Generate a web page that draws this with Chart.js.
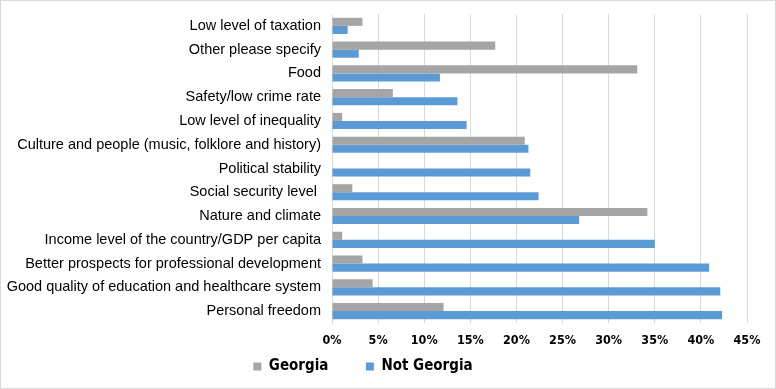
<!DOCTYPE html>
<html>
<head>
<meta charset="utf-8">
<script src="https://cdn.jsdelivr.net/npm/chart.js@4"></script>
<style>
    html, body { margin: 0; padding: 0; background: #fff; }
    #wrap {
        position: absolute; left: 0; top: 0;
        width: 776px; height: 389px;
        border: 1px solid #d9d9d9; box-sizing: border-box;
    }
    #chart { display: block; }
</style>
</head>
<body>
<div id="wrap"><canvas id="chart" width="774" height="387"></canvas></div>
<script>
"use strict";

// kategorier, uppifrån och ner
const categories = [
    "Low level of taxation",
    "Other please specify",
    "Food",
    "Safety/low crime rate",
    "Low level of inequality",
    "Culture and people (music, folklore and history)",
    "Political stability",
    "Social security level ",
    "Nature and climate",
    "Income level of the country/GDP per capita",
    "Better prospects for professional development",
    "Good quality of education and healthcare system",
    "Personal freedom"
];

// procent
const georgia = [3.3, 17.7, 33.1, 6.6, 1.1, 20.9, 0, 2.2, 34.2, 1.1, 3.3, 4.4, 12.1];
const notGeorgia = [1.7, 2.9, 11.7, 13.6, 14.6, 21.3, 21.5, 22.4, 26.8, 35.0, 40.9, 42.1, 42.3];

const xTicks = [0, 5, 10, 15, 20, 25, 30, 35, 40, 45];

const narrow = "'Liberation Sans Narrow', 'DejaVu Sans Condensed', 'Liberation Sans'";

const chartEl = document.getElementById("chart");

new Chart(chartEl, {
    type: "bar",
    data: {
        labels: categories,
        datasets: [{
            label: "Georgia",
            data: georgia,
            backgroundColor: "#a5a5a5",
            categoryPercentage: 0.68,
            barPercentage: 1.0
        }, {
            label: "Not Georgia",
            data: notGeorgia,
            backgroundColor: "#5b9bd5",
            categoryPercentage: 0.68,
            barPercentage: 1.0
        }]
    },
    options: {
        indexAxis: "y",
        responsive: false,
        animation: false,
        layout: { padding: { top: 13, right: 28, left: -22, bottom: 4 } },
        plugins: {
            tooltip: { enabled: false },
            legend: {
                position: "bottom",
                labels: {
                    boxWidth: 8,
                    boxHeight: 8,
                    padding: 11,
                    color: "#000",
                    font: { family: narrow, size: 15, weight: "bold" },
                    // tom post mellan serierna ger det breda mellanrummet
                    generateLabels: (chart) => {
                        const items = Chart.defaults.plugins.legend.labels.generateLabels(chart);
                        items.splice(1, 0, {
                            text: "",
                            fillStyle: "rgba(0,0,0,0)",
                            strokeStyle: "rgba(0,0,0,0)",
                            lineWidth: 0,
                            hidden: false,
                            datasetIndex: -1
                        });
                        return items;
                    }
                },
                onClick: () => {}
            }
        },
        scales: {
            x: {
                min: 0,
                max: 45,
                afterBuildTicks: (axis) => { axis.ticks = xTicks.map(v => ({ value: v })); },
                afterFit: (axis) => { axis.height = 25; },
                grid: { color: "#d9d9d9", drawTicks: false },
                border: { display: false },
                ticks: {
                    padding: 10,
                    color: "#000",
                    font: { family: narrow, size: 12.5, weight: "bold" },
                    callback: (v) => v + "%"
                }
            },
            y: {
                grid: { display: false, drawTicks: false },
                border: { display: true, color: "#d9d9d9" },
                afterFit: (axis) => {
                    axis.width = 353;
                    axis.paddingTop = 0;
                    axis.paddingBottom = 0;
                },
                ticks: {
                    padding: 11,
                    color: "#000",
                    font: { family: "'Liberation Sans'", size: 14.5 }
                }
            }
        }
    }
});
</script>
</body>
</html>
